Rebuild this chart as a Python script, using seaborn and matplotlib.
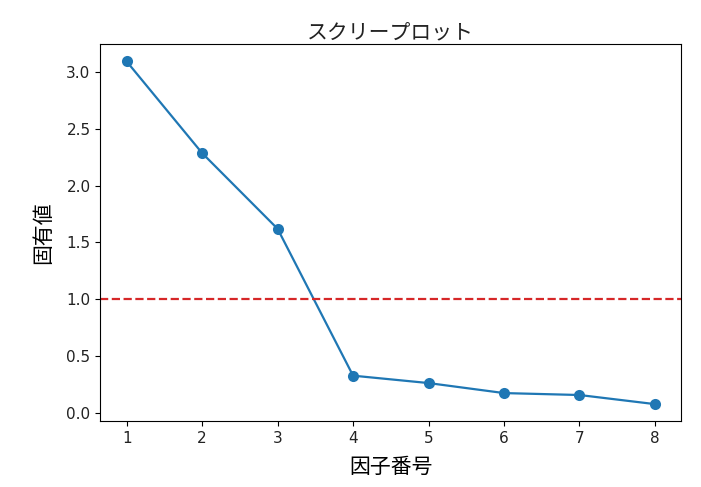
import matplotlib
matplotlib.use("Agg")
import matplotlib.pyplot as plt
import seaborn as sns
import pandas as pd

factors = [1, 2, 3, 4, 5, 6, 7, 8]
eigenvalues = [3.09, 2.285, 1.62, 0.33, 0.265, 0.177, 0.16, 0.08]
threshold = 1.0

df = pd.DataFrame({"factor": factors, "eigenvalue": eigenvalues})

plt.rcParams["font.family"] = ["DejaVu Sans", "Noto Sans CJK JP"]
plt.rcParams["text.color"] = "#222222"
plt.rcParams["xtick.labelcolor"] = "#222222"
plt.rcParams["ytick.labelcolor"] = "#222222"
jp = ["Noto Sans CJK JP", "DejaVu Sans"]

fig, ax = plt.subplots(figsize=(7.01, 4.87), dpi=100)
fig.subplots_adjust(left=0.143, right=0.972, top=0.909, bottom=0.135)

sns.lineplot(data=df, x="factor", y="eigenvalue", marker="o", markersize=8,
             markeredgewidth=0, color="#1f77b4", linewidth=1.6, ax=ax)
ax.axhline(threshold, color="#d62728", linestyle="--", linewidth=1.6)

ax.set_title("スクリープロット", family=jp, fontsize=15, pad=4)
ax.set_xlabel("因子番号", family=jp, fontsize=15, labelpad=7)
ax.set_ylabel("固有値", family=jp, fontsize=15, labelpad=9)
ax.set_xticks(factors)
ax.tick_params(labelsize=11)

fig.savefig("out.png", dpi=100)
